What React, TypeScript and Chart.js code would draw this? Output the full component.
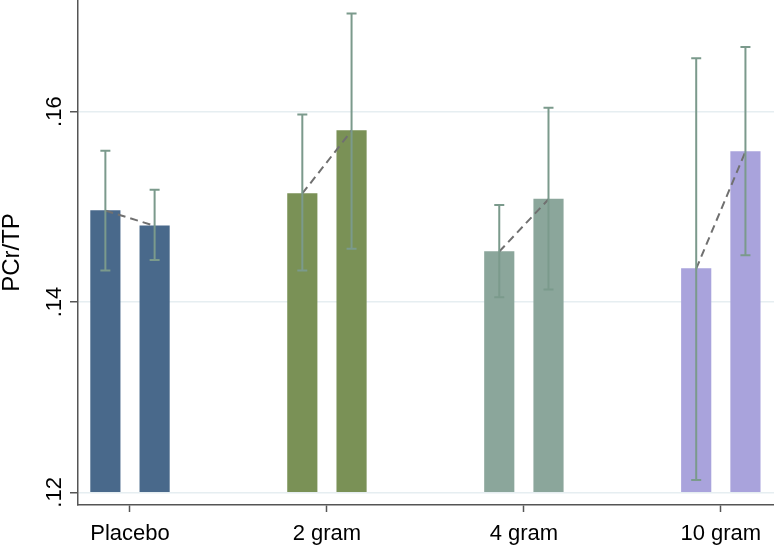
import React, { useEffect, useRef } from "react";
import { Chart, registerables } from "chart.js";

Chart.register(...registerables);

// ---- data ----
const categories = ["Placebo", "2 gram", "4 gram", "10 gram"];
const baselineMeans = [0.1496, 0.1514, 0.1453, 0.1435];
const followupMeans = [0.148, 0.158, 0.1508, 0.1558];
const baselineLower = [0.1433, 0.1433, 0.1405, 0.1213];
const baselineUpper = [0.1559, 0.1597, 0.1502, 0.1656];
const followupLower = [0.1444, 0.1456, 0.1413, 0.1449];
const followupUpper = [0.1518, 0.1703, 0.1604, 0.1668];
const yTickValues = [0.12, 0.14, 0.16];
const yTickLabels = [".12", ".14", ".16"];
const yTitle = "PCr/TP";

// ---- styles / layout ----
const groupColors = ["#49698b", "#7a9156", "#8ba69b", "#a9a3dc"];
const ERR_COLOR = "#7b9a8c";
const DASH_COLOR = "#707070";
const AXIS_COLOR = "#555555";
const GRID_COLOR = "#e6eef1";
const FONT = "'Liberation Sans', Arial, Helvetica, sans-serif";
const FONT_SIZE = 22;
const TITLE_SIZE = 24;
const OFF = 0.125;
const BAR_BASE = 0.12;
const W = 774;
const H = 547;

const errorBarPlugin = {
  id: "errorBars",
  afterDatasetsDraw(chart: any) {
    const { ctx } = chart;
    const x = chart.scales.x;
    const y = chart.scales.y;
    const series: [number[], number[], number][] = [
      [baselineLower, baselineUpper, -OFF],
      [followupLower, followupUpper, OFF],
    ];
    ctx.save();
    ctx.strokeStyle = ERR_COLOR;
    ctx.lineWidth = 2;
    ctx.setLineDash([]);
    series.forEach(([lo, hi, off]) => {
      categories.forEach((_, i) => {
        const px = x.getPixelForValue(i + 1 + off);
        const pt = y.getPixelForValue(hi[i]);
        const pb = y.getPixelForValue(lo[i]);
        ctx.beginPath();
        ctx.moveTo(px, pt);
        ctx.lineTo(px, pb);
        ctx.moveTo(px - 5, pt);
        ctx.lineTo(px + 5, pt);
        ctx.moveTo(px - 5, pb);
        ctx.lineTo(px + 5, pb);
        ctx.stroke();
      });
    });
    ctx.restore();
  },
  afterDraw(chart: any) {
    const { ctx } = chart;
    const y = chart.scales.y;
    ctx.save();
    ctx.fillStyle = "#000";
    ctx.font = `${FONT_SIZE}px ${FONT}`;
    ctx.textAlign = "center";
    ctx.textBaseline = "alphabetic";
    yTickValues.forEach((v, i) => {
      const py = y.getPixelForValue(v);
      ctx.save();
      ctx.translate(61, py);
      ctx.rotate(-Math.PI / 2);
      ctx.fillText(yTickLabels[i], 0, 0);
      ctx.restore();
    });
    ctx.restore();
  },
};

export default function App() {
  const ref = useRef<HTMLCanvasElement | null>(null);

  useEffect(() => {
    if (!ref.current) return;
    const barColors = groupColors;
    const linePoints: any[] = [];
    categories.forEach((_, i) => {
      linePoints.push({ x: i + 1 - OFF, y: baselineMeans[i] });
      linePoints.push({ x: i + 1 + OFF, y: followupMeans[i] });
      linePoints.push({ x: i + 1.5, y: null });
    });
    const chart = new Chart(ref.current, {
      type: "bar",
      data: {
        datasets: [
          {
            type: "line",
            label: "change",
            data: linePoints,
            borderColor: DASH_COLOR,
            borderWidth: 2,
            borderDash: [8, 5],
            pointRadius: 0,
            spanGaps: false,
            fill: false,
            order: 0,
          } as any,
          {
            type: "bar",
            label: "baseline",
            data: categories.map((_, i) => ({ x: i + 1 - OFF, y: baselineMeans[i] })),
            backgroundColor: barColors,
            borderWidth: 0,
            base: BAR_BASE,
            barThickness: 29.5,
            grouped: false,
            order: 1,
          } as any,
          {
            type: "bar",
            label: "follow-up",
            data: categories.map((_, i) => ({ x: i + 1 + OFF, y: followupMeans[i] })),
            backgroundColor: barColors,
            borderWidth: 0,
            base: BAR_BASE,
            barThickness: 29.5,
            grouped: false,
            order: 1,
          } as any,
        ],
      },
      options: {
        animation: false,
        responsive: false,
        maintainAspectRatio: false,
        layout: { padding: 0 },
        plugins: {
          legend: { display: false },
          tooltip: { enabled: false },
          title: { display: false },
        },
        scales: {
          x: {
            type: "linear",
            min: 0.736,
            max: 4.27,
            offset: false,
            afterBuildTicks: (axis: any) => {
              axis.ticks = categories.map((_, i) => ({ value: i + 1 }));
            },
            afterFit: (axis: any) => {
              axis.height = 42;
              axis.paddingLeft = 0;
              axis.paddingRight = 0;
            },
            ticks: {
              autoSkip: false,
              maxRotation: 0,
              minRotation: 0,
              padding: 9,
              color: "#000",
              font: { family: FONT, size: FONT_SIZE, lineHeight: 1.2 },
              callback: (v: any) => categories[Math.round(Number(v)) - 1] ?? "",
            },
            grid: {
              offset: false,
              drawOnChartArea: false,
              drawTicks: true,
              tickLength: 7,
              tickColor: AXIS_COLOR,
              tickWidth: 1.5,
            },
            border: { display: true, color: AXIS_COLOR, width: 1.5 },
          },
          y: {
            type: "linear",
            min: 0.11867,
            max: 0.17173,
            afterBuildTicks: (axis: any) => {
              axis.ticks = yTickValues.map((v) => ({ value: v }));
            },
            afterFit: (axis: any) => {
              axis.width = 78;
              axis.paddingTop = 0;
              axis.paddingBottom = 0;
            },
            ticks: {
              display: false,
            },
            grid: {
              color: GRID_COLOR,
              lineWidth: 1.5,
              drawTicks: true,
              tickLength: 8,
              tickColor: AXIS_COLOR,
              tickWidth: 1.5,
            },
            border: { display: true, color: AXIS_COLOR, width: 1.5 },
            title: {
              display: true,
              text: yTitle,
              color: "#000",
              padding: { top: 0, bottom: 0 },
              font: { family: FONT, size: TITLE_SIZE, lineHeight: 1.0 },
            },
          },
        },
      },
      plugins: [errorBarPlugin],
    } as any);
    return () => chart.destroy();
  }, []);

  return (
    <div style={{ position: "fixed", left: 0, top: 0, width: W, height: H, background: "#fff" }}>
      <canvas ref={ref} width={W} height={H} style={{ display: "block", width: W, height: H }} />
    </div>
  );
}
